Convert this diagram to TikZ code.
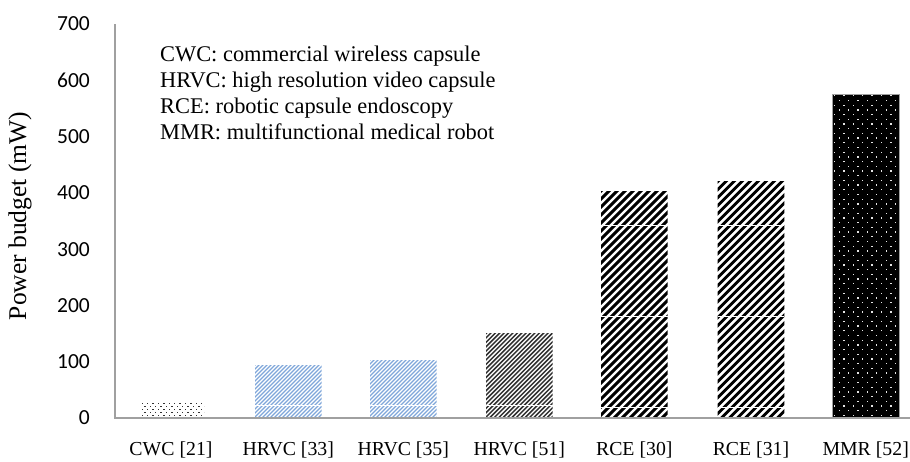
\documentclass[tikz,border=0pt]{standalone}
\usepackage{fontspec}
\setmainfont{Liberation Serif}
\newfontfamily\tickfont{Carlito}
\definecolor{hrvcblue}{HTML}{7FA6DA}
\definecolor{axisgray}{HTML}{A0A0A0}
\definecolor{darkhatch}{HTML}{303030}
% x0, x1, top, period, linewidth, colour
\newcommand\hatchbar[6]{%
  \begin{scope}
    \clip (#1,#3) rectangle (#2,418);
    \pgfmathsetmacro\hh{418-#3}
    \pgfmathtruncatemacro\nn{(#2-#1+\hh)/#4+2}
    \foreach \i in {0,...,\nn}{
      \draw[#6, line width=#5pt] ({#1-\hh+\i*#4-3},421) -- ++({\hh+8},{-\hh-8});
    }
  \end{scope}}
% x0, x1, top, dx, dy, dotsize, dotcolour, background
\newcommand\dotbar[8]{%
  \begin{scope}
    \clip (#1,#3) rectangle (#2,418);
    \fill[#8] (#1,#3) rectangle (#2,418);
    \pgfmathtruncatemacro\nr{(418-#3)/#5+1}
    \pgfmathtruncatemacro\nc{(#2-#1)/#4+1}
    \foreach \r in {0,...,\nr}{
      \pgfmathsetmacro\off{mod(\r,2)*#4/2}
      \foreach \c in {0,...,\nc}{
        \fill[#7] ({#1+1.5+\off+\c*#4},{416-\r*#5}) rectangle ++(#6,{-#6});
      }
    }
  \end{scope}}
\begin{document}
\begin{tikzpicture}[x=1pt,y=-1pt,
  ticklab/.style={anchor=east,font=\tickfont\fontsize{21.5}{24}\selectfont,inner sep=0pt},
  catlab/.style={anchor=base,font=\fontsize{19.8}{22}\selectfont,inner sep=0pt},
  legend/.style={anchor=base west,font=\fontsize{22.4}{26}\selectfont,inner sep=0pt},
  gapline/.style={white,line width=0.6pt}]
\useasboundingbox (0,0) rectangle (910,461);
\fill[white] (0,0) rectangle (910,461);

% bars
% CWC [21]
\dotbar{140}{204}{401}{5.4}{3}{1.4}{black!80}{white}
% HRVC [33]
\hatchbar{255}{321.7}{365}{4}{1.3}{hrvcblue}
\draw[gapline] (255,405.5) -- (321.7,405.5);
% HRVC [35]
\hatchbar{370}{436.7}{360}{4}{1.3}{hrvcblue}
\draw[gapline] (370,405.5) -- (436.7,405.5);
% HRVC [51]
\hatchbar{486}{552.7}{333.5}{4.4}{1.5}{darkhatch}
\draw[gapline] (486,405) -- (552.7,405);
% RCE [30]
\hatchbar{601}{667.7}{191}{8}{2.9}{black}
\draw[gapline] (601,225) -- (667.7,225);
\draw[gapline] (601,316) -- (667.7,316);
\draw[gapline] (601,407) -- (667.7,407);
% RCE [31]
\hatchbar{717.7}{784.3}{181.7}{8}{2.9}{black}
\draw[gapline] (717.7,225) -- (784.3,225);
\draw[gapline] (717.7,316) -- (784.3,316);
\draw[gapline] (717.7,407) -- (784.3,407);
% MMR [52]
\dotbar{832.3}{899}{94}{9.4}{4.7}{1.3}{white!80!gray}{black}
\draw[axisgray, line width=0.8pt] (832.3,418) -- (832.3,94) -- (899,94) -- (899,418);

% axes
\coordinate (o) at (115,418);
\coordinate (ytop) at (115,24);
\coordinate (xend) at (910,418);
\draw[axisgray, line width=1.2pt] (ytop) -- (o) -- (xend);

% tick labels
\foreach \v/\nm in {0/t0,100/t1,200/t2,300/t3,400/t4,500/t5,600/t6,700/t7}{
  \node[ticklab] (\nm) at (90,{418-\v*0.5629}) {\v};
}

% axis title
\node[rotate=90,font=\fontsize{25.5}{28}\selectfont,inner sep=0pt] (ytitle) at (20,216) {Power budget (mW)};

% category labels
\node[catlab] (c1) at (171,455.5) {CWC [21]};
\node[catlab] (c2) at (288.3,455.5) {HRVC [33]};
\node[catlab] (c3) at (403.3,455.5) {HRVC [35]};
\node[catlab] (c4) at (519.3,455.5) {HRVC [51]};
\node[catlab] (c5) at (634.3,455.5) {RCE [30]};
\node[catlab] (c6) at (751,455.5) {RCE [31]};
\node[catlab] (c7) at (865.7,455.5) {MMR [52]};

% legend
\node[legend] (l1) at (160,61) {CWC: commercial wireless capsule};
\node[legend] (l2) at (160,87) {HRVC: high resolution video capsule};
\node[legend] (l3) at (160,113) {RCE: robotic capsule endoscopy};
\node[legend] (l4) at (160,139) {MMR: multifunctional medical robot};
\end{tikzpicture}
\end{document}
